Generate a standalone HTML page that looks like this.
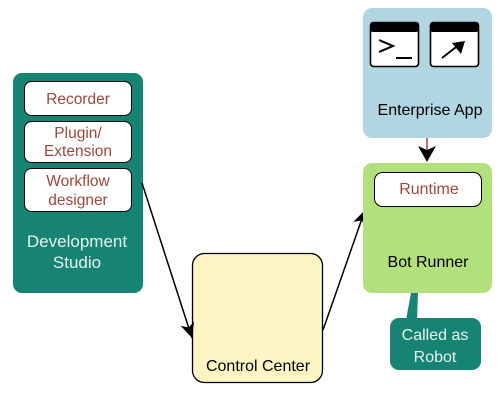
<!DOCTYPE html>
<html><head><meta charset="utf-8"><style>
body{margin:0;width:500px;height:400px;background:#fff;overflow:hidden;font-family:"Liberation Sans",sans-serif}
</style></head><body>
<svg width="500" height="400" xmlns="http://www.w3.org/2000/svg" font-family="Liberation Sans, sans-serif">
<defs>
<marker id="ah" markerWidth="16" markerHeight="14" refX="15" refY="7" orient="auto" markerUnits="userSpaceOnUse"><path d="M0,0 L15,7 L0,14 L4,7 z" fill="#000"/></marker>
</defs>
<!-- Dev studio -->
<rect x="13" y="73" width="130" height="220" rx="9" fill="#178473"/>
<rect x="24.5" y="81.5" width="107" height="34" rx="7" fill="#fff" stroke="#000" stroke-width="1"/>
<text x="78" y="104" font-size="15.5" fill="#a0463a" text-anchor="middle">Recorder</text>
<rect x="24.5" y="121.5" width="107" height="41" rx="7" fill="#fff" stroke="#000" stroke-width="1"/>
<text x="78" y="138" font-size="15.5" fill="#a0463a" text-anchor="middle">Plugin/</text>
<text x="78" y="156" font-size="15.5" fill="#a0463a" text-anchor="middle">Extension</text>
<rect x="24.5" y="168.5" width="107" height="43" rx="7" fill="#fff" stroke="#000" stroke-width="1"/>
<text x="78" y="186" font-size="15.5" fill="#a0463a" text-anchor="middle">Workflow</text>
<text x="78" y="205" font-size="15.5" fill="#a0463a" text-anchor="middle">designer</text>
<text x="77" y="247" font-size="17" fill="#e6f2ee" text-anchor="middle">Development</text>
<text x="77" y="268" font-size="17" fill="#e6f2ee" text-anchor="middle">Studio</text>
<!-- Control center -->
<rect x="192.5" y="253.5" width="130" height="129" rx="12" fill="#fdf6c4" stroke="#000" stroke-width="1.3"/>
<text x="258" y="371" font-size="16" fill="#000" text-anchor="middle">Control Center</text>
<!-- arrows -->
<line x1="142" y1="183" x2="192" y2="338" stroke="#000" stroke-width="1.5" marker-end="url(#ah)"/>
<line x1="323" y1="330" x2="365" y2="210" stroke="#000" stroke-width="1.5" marker-end="url(#ah)"/>
<!-- Enterprise app -->
<rect x="363" y="8" width="129" height="130" rx="9" fill="#b1d5e1"/>
<rect x="370.5" y="22.5" width="48" height="44" rx="3" fill="#fff" stroke="#000" stroke-width="1.6"/>
<rect x="370" y="22" width="49" height="10" rx="3" fill="#000"/>
<path d="M379,40 L393,46 L379,52" fill="none" stroke="#000" stroke-width="2"/>
<line x1="396" y1="58" x2="412" y2="58" stroke="#000" stroke-width="2"/>
<rect x="430.5" y="22.5" width="48" height="44" rx="3" fill="#fff" stroke="#000" stroke-width="1.6"/>
<rect x="430" y="22" width="49" height="10" rx="3" fill="#000"/>
<line x1="442" y1="58" x2="460" y2="44" stroke="#000" stroke-width="2"/>
<path d="M465,41 L452,43 L461,54 z" fill="#000"/>
<text x="430" y="115" font-size="16" fill="#000" text-anchor="middle">Enterprise App</text>
<line x1="427" y1="138" x2="427" y2="150" stroke="#a0463a" stroke-width="1.5"/>
<path d="M418,146 L427,162 L436,146 L427,150 z" fill="#000"/>
<!-- Bot runner -->
<rect x="363" y="163" width="129" height="130" rx="9" fill="#b1e07c"/>
<rect x="374.5" y="172.5" width="107" height="34" rx="8" fill="#fff" stroke="#000" stroke-width="1"/>
<text x="429" y="194" font-size="16" fill="#a0463a" text-anchor="middle">Runtime</text>
<text x="428" y="267" font-size="16" fill="#000" text-anchor="middle">Bot Runner</text>
<!-- callout -->
<path d="M411,293 L418,293 L417,320 L406,320 z" fill="#178473"/>
<rect x="390" y="318" width="91" height="52" rx="9" fill="#178473"/>
<text x="435" y="340" font-size="16" fill="#e6f2ee" text-anchor="middle">Called as</text>
<text x="435" y="362" font-size="16" fill="#e6f2ee" text-anchor="middle">Robot</text>
</svg>
</body></html>
